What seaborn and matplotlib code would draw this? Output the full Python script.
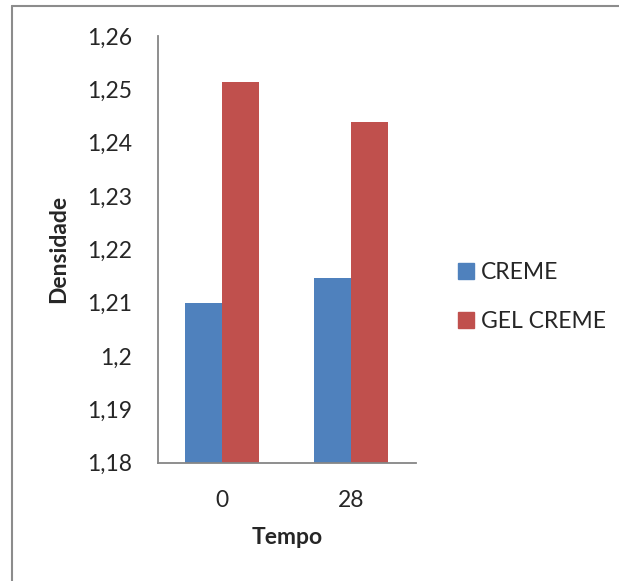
import matplotlib
matplotlib.use("Agg")
import matplotlib.pyplot as plt
from matplotlib.lines import Line2D
import seaborn as sns
import pandas as pd

categories = ["0", "28"]
series_names = ["CREME", "GEL CREME"]
creme = [1.2100, 1.2147]
gel_creme = [1.2514, 1.2438]
y_ticks = [1.18, 1.19, 1.20, 1.21, 1.22, 1.23, 1.24, 1.25, 1.26]
y_tick_labels = ["1,18", "1,19", "1,2", "1,21", "1,22", "1,23", "1,24", "1,25", "1,26"]
x_title = "Tempo"
y_title = "Densidade"

df = pd.DataFrame({
    "Tempo": categories * 2,
    "Serie": [series_names[0]] * len(categories) + [series_names[1]] * len(categories),
    "Densidade": creme + gel_creme,
})

sns.set_style("white")
plt.rcParams["font.family"] = ["Lato", "DejaVu Sans"]
FS = 16.5

fig = plt.figure(figsize=(6.19, 5.81), dpi=100)
ax = fig.add_axes([0.2548, 0.2036, 0.672 - 0.2548, 0.938 - 0.2036])

palette = {"CREME": "#4F81BD", "GEL CREME": "#C0504D"}
sns.barplot(data=df, x="Tempo", y="Densidade", hue="Serie", order=categories,
            hue_order=series_names, palette=palette, width=0.574, gap=0,
            saturation=1, ax=ax, legend=True, linewidth=0)

ax.set_xlim(-0.5, 1.5)
ax.set_ylim(1.18, 1.26)
ax.set_yticks(y_ticks)
ax.set_yticklabels(y_tick_labels, fontsize=FS)
ax.set_xticks(range(len(categories)))
ax.set_xticklabels(categories, fontsize=FS)
ax.tick_params(axis="y", length=0, pad=18.5)
ax.tick_params(axis="x", length=0, pad=20)
ax.set_xlabel(x_title, fontsize=FS, fontweight="bold", labelpad=11)
ax.set_ylabel(y_title, fontsize=FS, fontweight="bold", labelpad=13)

for side in ["top", "right"]:
    ax.spines[side].set_visible(False)
for side in ["left", "bottom"]:
    ax.spines[side].set_color("#868686")
    ax.spines[side].set_linewidth(1.3)

leg = ax.get_legend()
if leg is not None:
    leg.remove()
handles = [plt.Rectangle((0, 0), 1, 1, color=palette[s]) for s in series_names]
fig.legend(handles, series_names, loc="upper left", bbox_to_anchor=(458 / 619, 1 - 262 / 581),
           frameon=False, fontsize=FS, handlelength=0.7, handleheight=0.7,
           handletextpad=0.32, labelspacing=1.22, borderaxespad=0, borderpad=0)

# outer chart border (top and left visible)
fig.add_artist(Line2D([11.5 / 619, 11.5 / 619], [0, 1 - 5.5 / 581], transform=fig.transFigure,
                      color="#8c8c8c", linewidth=1.5))
fig.add_artist(Line2D([11.5 / 619, 1], [1 - 5.5 / 581, 1 - 5.5 / 581], transform=fig.transFigure,
                      color="#8c8c8c", linewidth=1.5))

fig.savefig("out.png", dpi=100)
